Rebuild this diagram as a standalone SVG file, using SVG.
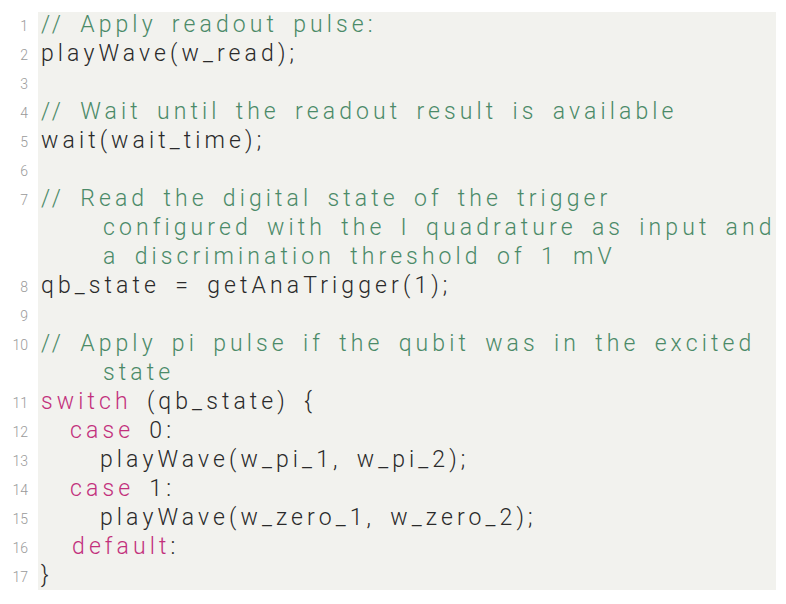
<svg xmlns="http://www.w3.org/2000/svg" width="786" height="604" viewBox="0 0 786 604">
<style>
.c{font-family:Roboto,"Liberation Sans",sans-serif;font-weight:300;font-size:23px;letter-spacing:4.1px;word-spacing:5.5px;fill:#2a2a2a;white-space:pre}
.g{fill:#4b8a68}.k{fill:#c2307c}
.n{font-family:Roboto,"Liberation Sans",sans-serif;font-weight:300;font-size:14px;fill:#9a9a9a;text-anchor:end}
</style>
<rect width="786" height="604" fill="#fff"/>
<rect x="38" y="12" width="738" height="578" fill="#f2f2ee"/>
<g class="n">
<text x="28" y="31">1</text><text x="28" y="60">2</text><text x="28" y="89">3</text><text x="28" y="118">4</text><text x="28" y="147">5</text><text x="28" y="176">6</text><text x="28" y="205">7</text><text x="28" y="292">8</text><text x="28" y="321">9</text><text x="28" y="350">10</text><text x="28" y="408">11</text><text x="28" y="437">12</text><text x="28" y="466">13</text><text x="28" y="495">14</text><text x="28" y="524">15</text><text x="28" y="553">16</text><text x="28" y="582">17</text>
</g>
<g class="c">
<text x="41" y="32" class="c g">// Apply readout pulse:</text>
<text x="41" y="61" class="c">playWave(w_read);</text>
<text x="41" y="119" class="c g">// Wait until the readout result is available</text>
<text x="41" y="148" class="c">wait(wait_time);</text>
<text x="41" y="206" class="c g">// Read the digital state of the trigger</text>
<text x="103" y="235" class="c g">configured with the I quadrature as input and</text>
<text x="103" y="264" class="c g">a discrimination threshold of 1 mV</text>
<text x="41" y="293" class="c">qb_state = getAnaTrigger(1);</text>
<text x="41" y="351" class="c g">// Apply pi pulse if the qubit was in the excited</text>
<text x="103" y="380" class="c g">state</text>
<text x="41" y="409" class="c"><tspan class="k">switch</tspan> (qb_state) {</text>
<text x="70" y="438" class="c"><tspan class="k">case</tspan> 0:</text>
<text x="100" y="467" class="c">playWave(w_pi_1, w_pi_2);</text>
<text x="70" y="496" class="c"><tspan class="k">case</tspan> 1:</text>
<text x="100" y="525" class="c">playWave(w_zero_1, w_zero_2);</text>
<text x="72" y="554" class="c"><tspan class="k">default</tspan>:</text>
<text x="41" y="583" class="c">}</text>
</g>
</svg>
